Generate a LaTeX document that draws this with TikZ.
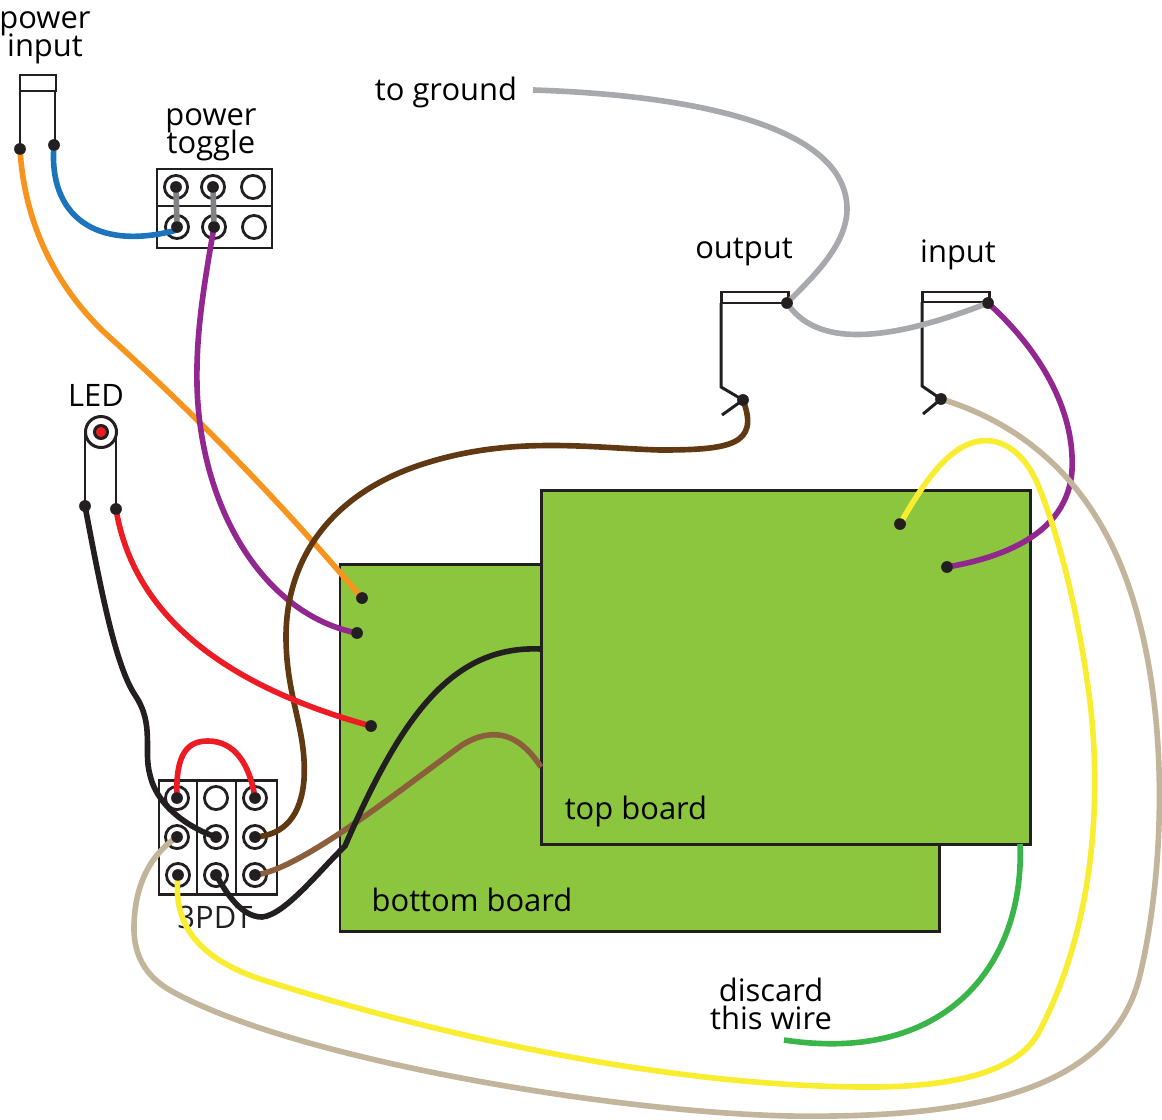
\documentclass[tikz,border=0pt]{standalone}
\usepackage{fontspec}
\setmainfont{Open Sans}
\newcommand{\lblfont}{\fontsize{17.6}{15.9}\selectfont\setlength{\lineskiplimit}{-30pt}}
\definecolor{ink}{HTML}{231F20}
\definecolor{board}{HTML}{8CC63F}
\definecolor{wgrey}{HTML}{A7A9AC}
\definecolor{wbeige}{HTML}{C2B59B}
\definecolor{wyellow}{HTML}{F9ED32}
\definecolor{wgreen}{HTML}{39B54A}
\definecolor{wpurple}{HTML}{92278F}
\definecolor{worange}{HTML}{F7941E}
\definecolor{wblue}{HTML}{1C75BC}
\definecolor{wred}{HTML}{ED1C24}
\definecolor{wdbrown}{HTML}{603913}
\definecolor{wlbrown}{HTML}{8B5E3C}
\definecolor{link}{HTML}{808285}
\tikzset{
  x=0.02cm,y=-0.02cm,
  dot/.style={circle,fill=ink,inner sep=0pt,minimum size=11.5pt*0.5669},
  ring/.style={circle,draw=ink,line width=1.6pt,fill=white,inner sep=0pt,minimum size=13.6mm*0.34},
  part/.style={draw=ink,line width=1.7pt,fill=white},
  outl/.style={draw=ink,line width=1.7pt},
  boardbox/.style={draw=ink,line width=1.7pt,fill=board},
  wire/.style={line width=3.2pt,line cap=butt},
  lbl/.style={inner sep=0pt,font=\lblfont,align=center,text=black},
}
\begin{document}
\begin{tikzpicture}
\useasboundingbox (0,0) rectangle (1162,1119);
% boards
\node[boardbox,minimum width=599*0.02cm,minimum height=367*0.02cm,inner sep=0pt] (bottom) at (639.5,747.5) {};
\node[boardbox,minimum width=489*0.02cm,minimum height=354*0.02cm,inner sep=0pt] (top) at (785.5,667) {};
% labels
\node[lbl] (lpi) at (45,38) {power\\input};
\node[lbl] (lpt) at (211,135) {power\\toggle};
\node[lbl] (ltg) at (446,92) {to ground};
\node[lbl] (lout) at (744,252) {output};
\node[lbl] (lin) at (958,255) {input};
\node[lbl] (lled) at (96,395) {LED};
\node[lbl] (lbb) at (472,900) {bottom board};
\node[lbl] (ltb) at (636,811) {top board};
\node[lbl] (ldw) at (771,1004) {discard\\this wire};
\node[lbl,text=ink] (l3) at (215,917) {3PDT};
% parts
\draw[part] (20,75) rectangle (56,91);
\draw[outl] (20,91) -- (20,149) (55,91) -- (55,145);
\draw[part] (157,169) rectangle (272,248);
\draw[outl] (157,206) -- (272,206);
\draw[outl] (85,432) -- (85,506) (116,432) -- (116,509);
\node[circle,draw=ink,line width=1.7pt,fill=white,minimum size=31*0.02cm,inner sep=0pt] (ledo) at (101,432) {};
\node[circle,draw=ink,line width=1.7pt,fill=wred,minimum size=13*0.02cm,inner sep=0pt] (ledi) at (101,432) {};
\draw[part] (159,780) rectangle (277,894);
\draw[outl] (197,780) -- (197,894) (236,780) -- (236,894);
\draw[part] (721,292) rectangle (788,303);
\draw[outl] (721,303) -- (721,387) -- (743,400) -- (722,415);
\draw[part] (922,292) rectangle (989,302);
\draw[outl] (922,302) -- (922,386) -- (941,399) -- (923,414);
% sockets
\foreach \n/\px/\py in {ta/176/187,tb/213/187,tc/253/187,td/177/227,te/214/227,tf/254/227,
  pa/177/798,pb/216/798,pc/255/798,pd/177/837,pe/216/837,pf/255/837,pg/178/875,ph/216/875,pi/255/875}
  \node[ring] (r\n) at (\px,\py) {};
% endpoints
\foreach \n/\px/\py in {ta/176/187,tb/213/187,td/177/227,te/214/227,
  pa/177/798,pc/255/798,pd/177/837,pe/216/837,pf/255/837,pg/178/875,ph/216/875,pi/255/875,
  ja/20/149,jb/54/145,la/85/506,lb/116/509,
  oa/787/303,ob/743/400,ia/988/303,ib/941/399,
  ba/362/598,bb/357/633,bc/371/726,ua/900/524,ub/947/567}
  \node[dot,name=\n] at (\px,\py) {};
\coordinate (gnd) at (533,90);
\coordinate (bk) at (541,649);
\coordinate (lbk) at (541,767);
\coordinate (grn) at (1020,844);
\coordinate (dis) at (784,1040);
% wires
\draw[wire,link] (ta.center) -- (td.center);
\draw[wire,link] (tb.center) -- (te.center);
\draw[wire,wblue] (jb.center) .. controls (48,215) and (95,252) .. (177,230);
\draw[wire,worange] (ja.center) .. controls (25,235) and (65,295) .. (105,333)
  .. controls (185,405) and (270,490) .. (ba.center);
\draw[wire,wpurple] (te.center) .. controls (203,290) and (196,335) .. (197,385)
  .. controls (200,510) and (265,615) .. (bb.center);
\draw[wire,wgrey] (gnd) .. controls (690,95) and (848,125) .. (847,210)
  .. controls (846,245) and (815,275) .. (oa.center);
\draw[wire,wgrey] (oa.center) .. controls (815,345) and (880,345) .. (ia.center);
\draw[wire,wpurple] (ia.center) .. controls (1040,350) and (1075,410) .. (1072,470)
  .. controls (1068,535) and (1000,558) .. (ub.center);
\draw[wire,wdbrown] (ob.center) .. controls (760,445) and (730,450) .. (660,450)
  .. controls (590,448) and (510,435) .. (420,465)
  .. controls (330,495) and (285,560) .. (286,640)
  .. controls (287,700) and (307,730) .. (304,780)
  .. controls (301,815) and (285,835) .. (pf.center);
\draw[wire,wred] (lb.center) .. controls (135,625) and (240,690) .. (bc.center);
\draw[wire,ink] (la.center) .. controls (100,585) and (115,665) .. (135,695)
  .. controls (155,725) and (143,750) .. (150,775)
  .. controls (158,810) and (195,830) .. (pe.center);
\draw[wire,wred] (pa.center) .. controls (175,750) and (190,741) .. (208,741)
  .. controls (235,741) and (250,765) .. (pc.center);
\draw[wire,wlbrown] (pi.center) .. controls (300,870) and (400,790) .. (462,745)
  .. controls (495,725) and (520,735) .. (lbk);
\draw[wire,ink] (bk) .. controls (450,645) and (400,720) .. (345,846)
  .. controls (320,870) and (285,915) .. (262,917)
  .. controls (240,917) and (225,890) .. (ph.center);
\draw[wire,wbeige] (pd.center) .. controls (150,855) and (135,885) .. (134,925)
  .. controls (133,960) and (150,980) .. (175,993)
  .. controls (300,1060) and (610,1112) .. (790,1116)
  .. controls (950,1118) and (1110,1100) .. (1140,975)
  .. controls (1165,870) and (1170,710) .. (1130,590)
  .. controls (1090,470) and (1010,420) .. (ib.center);
\draw[wire,wyellow] (pg.center) .. controls (172,930) and (205,960) .. (260,979)
  .. controls (420,1030) and (650,1085) .. (860,1087)
  .. controls (960,1088) and (1020,1070) .. (1040,1030)
  .. controls (1095,925) and (1104,790) .. (1087,680)
  .. controls (1077,610) and (1060,540) .. (1040,490)
  .. controls (1025,450) and (1000,438) .. (980,441)
  .. controls (950,445) and (925,480) .. (ua.center);
\draw[wire,wgreen] (grn) .. controls (1025,960) and (950,1065) .. (dis);
% dots redrawn above wires
\foreach \n in {ta,tb,td,te,pa,pc,pd,pe,pf,pg,ph,pi,ja,jb,la,lb,oa,ob,ia,ib,ba,bb,bc,ua,ub}
  \fill[ink] (\n.center) circle (5.75);
\end{tikzpicture}
\end{document}
